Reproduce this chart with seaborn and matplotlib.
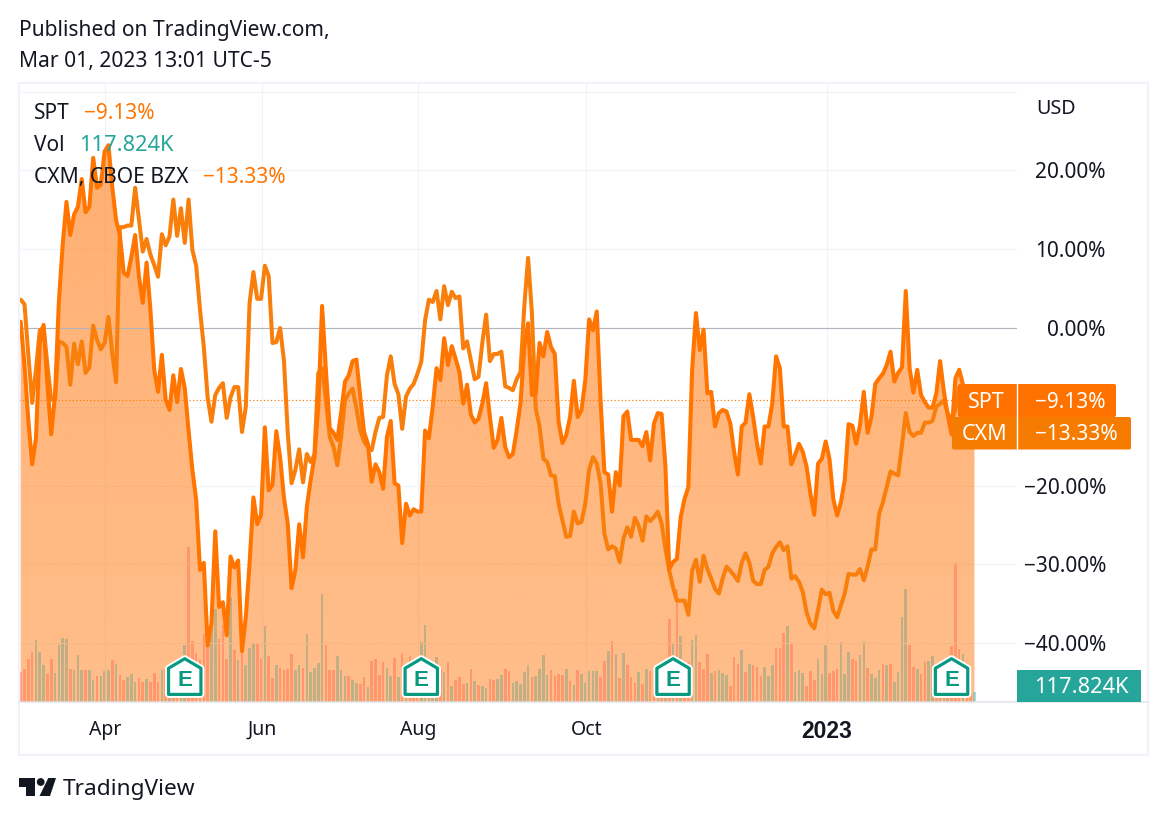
import numpy as np
import pandas as pd
import matplotlib
matplotlib.use("Agg")
import matplotlib.pyplot as plt
from matplotlib.patches import Polygon, Rectangle, FancyBboxPatch, Circle
import seaborn as sns

# percent change since the start of the window, one value per session
spt_pct = [0.8,-4.7,-11.7,-17.3,-14,-1.9,0.4,-7.2,-13.5,-8.5,
 3.3,10.5,16,11.8,14.4,15.4,18.9,14.7,15.4,21.6,
 17.8,18.2,22.4,23.2,17.9,13.7,11.8,7,6.6,9,
 11.8,6.5,3.2,8.3,2.3,-5.3,-8.1,-3.4,-9.1,-10.4,
 -6,-9.4,-5.2,-7.6,-13,-18,-21.8,-30.7,-29.8,-40.3,
 -37.5,-25.8,-35.4,-34.8,-39,-29,-30.4,-29.5,-41,-36.7,
 -29.8,-21.5,-24.9,-23.7,-12.6,-20.6,-19.9,-13.1,-16.4,-21.5,
 -24.8,-33,-30.7,-24.9,-29.1,-22.7,-19.3,-16.4,-10,2.8,
 -5.3,-12.7,-13.3,-14.2,-10.7,-6.8,-6,-4.2,-4,-8.7,
 -13.2,-14.7,-19.5,-17.3,-18.3,-20.4,-13.8,-11.8,-19.7,-20,
 -27.3,-22.3,-23.8,-23,-23.3,-23.3,-13,-14,-10,-5.1,
 -6.6,-1.3,-4.7,-2.3,-3.9,-5.6,-9.6,-7.2,-11,-12,
 -11.5,-9.6,-7,-11.3,-15.2,-14.2,-11.4,-15.1,-16.4,-16,
 -13,-9.6,-2.4,0.6,-8.5,-8.4,-1.9,-3.6,-0.5,-2.4,
 -3.3,-11.9,-14.6,-13.6,-11.3,-6.7,-11.3,-10.4,-6.6,1.1,
 -0.3,2.1,-9.2,-18.3,-18.6,-23.3,-18.3,-20,-11.2,-10.6,
 -14.2,-14.2,-14.2,-15,-13.2,-16.8,-12.1,-10.8,-10.9,-17.6,
 -30.6,-29.7,-29.3,-24,-21.7,-20.2,-5.3,1.9,-2.8,-0.2,
 -8.3,-8.1,-12.5,-10.8,-10.4,-10.6,-12.1,-15.7,-18.6,-12.5,
 -12,-8.4,-11.3,-14.7,-17.2,-12.5,-12.5,-9.6,-3.6,-5.1,
 -12.5,-12.5,-17.3,-16.1,-14.7,-15.7,-17.6,-21,-23.7,-17.2,
 -16.6,-14.4,-16.6,-21.7,-23.8,-22.1,-19.3,-12.2,-12.4,-14.7,
 -12.3,-8.1,-13.3,-11.3,-7.1,-6.4,-5.8,-4.7,-3,-6.8,
 -5.7,-5,4.7,-5.1,-8.2,-5.3,-8.5,-9.4,-10.1,-10.1,
 -8.3,-4.2,-8.1,-11.1,-13.5,-6.4,-5.3,-7.2,-9.6,-10.2,-9.13]

cxm_pct = [3.6,3,-3.4,-9.5,-5.3,-0.3,0.1,-4.7,-9.1,-9.1,
 -1.7,-1.9,-2.4,-7.2,-2,-4.6,-1.7,-5.7,-5,0.3,
 -1.5,-2.7,-1.9,1.4,-3.2,-6.9,12.8,12.8,13,13,
 17.8,13.7,9.7,11.3,9.3,8,6.5,11.9,10.5,11.6,
 16.3,11.7,15.2,10.8,16.3,9.9,7.9,2.3,-2.4,-8.8,
 -11.9,-8.5,-7.6,-7,-11.4,-8.8,-7.5,-7.5,-13.2,-10,
 3.2,7.1,3.7,3.7,7.9,6.6,-1.9,-1.8,0,-4.1,
 -13.3,-19.7,-18,-15.4,-19.6,-16,-17,-16.1,-5.7,-5.1,
 -9.1,-13.8,-15.1,-17.4,-13.8,-9.2,-8.3,-7.7,-10.2,-13,
 -14.4,-15.1,-15.5,-13.2,-11.4,-11.3,-6,-3.6,-7.1,-8.4,
 -12.8,-8.7,-7.7,-7.1,-5.8,-4.3,1,3.6,3.3,4.7,
 1.1,5.3,2.9,4.6,3.8,4,-2.6,-1.7,-4.1,-6.5,
 -6.2,-1.9,1.7,-4.2,-3.3,-3.3,-3,-7.4,-7.6,-7.9,
 -6.5,-5.6,2.7,8.9,1.9,-10.2,-12.5,-16.6,-17,-18.7,
 -18.8,-22.3,-24.4,-26.5,-26.4,-23.3,-24.8,-24.6,-22.3,-18,
 -16.4,-17.2,-19.7,-26.1,-28.1,-27.7,-28,-29.7,-26.7,-25.3,
 -26.5,-24.1,-25.1,-27,-23.9,-24.5,-24,-23.3,-24.8,-28,
 -30.8,-32.9,-34.6,-34.6,-34.6,-36.4,-30.8,-29.4,-32.2,-28.9,
 -30.6,-31.8,-33.1,-33.7,-31.8,-30.3,-30.8,-31.4,-32.1,-29.8,
 -28.6,-29.8,-32.1,-32.5,-32.5,-30.7,-30.3,-28.6,-27.8,-27.2,
 -28.2,-27.7,-31.8,-31.5,-32.2,-33.5,-36.1,-37.5,-38.1,-35.8,
 -33.2,-33.8,-33.6,-35.9,-36.7,-35.2,-33.7,-31.2,-31.3,-31.3,
 -30.6,-32,-30.3,-28.1,-28.1,-23.6,-22.1,-20.2,-18.2,-18.5,
 -18.7,-14.9,-10.8,-13.2,-13.7,-13.3,-13.3,-12,-12,-11.8,
 -10,-9.6,-9.2,-10.8,-11.7,-10.4,-7.5,-9,-12,-13,-13.33]

# volume in thousands of shares
volume_k = [360,400,520,600,740,600,448,340,520,352,
 680,772,760,400,388,568,380,388,388,260,
 312,312,372,388,508,460,328,260,300,340,
 240,292,240,280,240,352,240,380,400,400,
 440,460,440,680,1860,728,592,500,820,680,
 940,1112,760,920,512,1260,628,508,600,440,
 652,700,700,512,908,548,288,440,412,380,
 400,572,380,440,412,820,360,412,472,1292,
 688,388,388,548,380,312,312,260,228,212,
 300,180,492,512,320,480,408,312,528,300,
 588,420,548,520,500,720,920,400,440,540,
 400,360,480,188,260,300,212,228,400,252,
 200,188,168,272,260,272,320,392,368,228,
 252,212,360,440,300,312,400,560,320,388,
 308,340,328,400,248,200,388,340,228,368,
 368,368,300,488,608,728,572,288,592,440,
 300,228,360,212,400,368,372,400,400,440,
 1000,692,1356,792,440,480,740,804,484,396,
 572,348,372,384,348,324,192,540,460,620,
 360,456,444,420,312,420,312,444,648,648,
 828,912,696,360,384,348,192,372,264,512,
 340,684,348,372,396,720,336,600,516,492,
 564,720,408,336,288,384,456,444,456,240,
 360,1020,1356,684,420,396,336,480,492,552,
 440,400,400,440,672,1668,636,576,240,100,118]

volume_dir = list(
 "rrrrgggrrg" "gggrgggrgg" "rgggrgrrgg" "grrgrrrgrg"
 "rrggrrrrrr" "ggrrrgrgrg" "ggrrgrrgrr" "rrggrggggg"
 "rrrgggrggr" "rgrrrrggrg" "rgrrrggggg" "rgrgrrrgrg"
 "rggrrggrrg" "ggggrggggr" "rrrgrgrggg" "ggrrgrgrgr"
 "rrgrgrrgrg" "rgrgrrggrr" "rgrgggrrrg" "rgrrrgggrr"
 "rgrgggrrrg" "ggrrrgggrr" "ggrgggrgrg" "gggrrgrrgg"
 "rgrgrrrgrrg")

month_sessions = [22.2, 63.2, 104.2, 148.3, 211.3]
month_labels = ["Apr", "Jun", "Aug", "Oct", "2023"]
price_ticks = [30, 20, 10, 0, -10, -20, -30, -40]
price_tick_labels = ["", "20.00%", "10.00%", "0.00%", "", "\u221220.00%", "\u221230.00%", "\u221240.00%"]
earnings_sessions = [43, 105, 171, 244]

FONT = "Noto Sans"
BOLD = "Liberation Sans"
INK = "#131722"
SPT_C = "#FF7500"
CXM_C = "#F97F0C"
TEAL = "#26A69A"
W, H = 1167, 821

sns.set_theme(style="white")
plt.rcParams["font.family"] = [FONT, "DejaVu Sans"]
fig = plt.figure(figsize=(W / 100, H / 100), dpi=100, facecolor="white")

L, R, T, B = 19, 1017, 83, 702
rect = [L / W, 1 - B / H, (R - L) / W, (B - T) / H]
ax_vol = fig.add_axes(rect, zorder=1)
ax = fig.add_axes(rect, zorder=2)
ax.patch.set_alpha(0)
over = fig.add_axes([0, 0, 1, 1], zorder=3)
over.set_xlim(0, W); over.set_ylim(H, 0); over.axis("off"); over.patch.set_alpha(0)

sessions = np.arange(len(spt_pct))
prices = pd.DataFrame({"session": sessions, "spt": spt_pct, "cxm": cxm_pct})
vols = pd.DataFrame({"session": sessions, "vol": volume_k, "dir": volume_dir})

x_lim = ((L - 20.7) / 3.815, (R - 20.7) / 3.815)
y_lim = ((328 - B) / 7.88, (328 - T) / 7.88)

sns.barplot(data=vols, x="session", y="vol", hue="dir", native_scale=True, dodge=False,
            palette={"r": "#FFB9CE", "g": "#8DE5F8"}, width=0.68, legend=False,
            errorbar=None, ax=ax_vol, linewidth=0, saturation=1)
ax_vol.set_xlim(*x_lim); ax_vol.set_ylim(0, (B - T) * 12)
ax_vol.set_xticks([]); ax_vol.set_yticks([])
ax_vol.set_xlabel(""); ax_vol.set_ylabel("")
for s in ax_vol.spines.values():
    s.set_visible(False)

# grid
for v in month_sessions:
    ax.axvline(v, color="#F0F3FA", lw=0.75, zorder=1)
for p in price_ticks:
    if p != 0:
        ax.axhline(p, color="#F0F3FA", lw=0.75, zorder=1)

# area under the main series, with a faint vertical gradient
area = ax.fill_between(prices["session"], prices["spt"], y_lim[0], color="none", zorder=2)
grad = np.zeros((256, 1, 4))
grad[..., 0] = 1.0; grad[..., 1] = 0x71 / 255
grad[..., 3] = np.linspace(0.56, 0.46, 256).reshape(-1, 1)
img = ax.imshow(grad, extent=[x_lim[0], x_lim[1], y_lim[0], 24], origin="upper",
                aspect="auto", zorder=2, interpolation="bilinear")
img.set_clip_path(area.get_paths()[0], ax.transData)

ax.axhline(0, color="#B2B5BE", lw=0.85, zorder=3)
ax.axhline(spt_pct[-1], color=SPT_C, lw=0.85, ls=(0, (1, 2)), zorder=3)

sns.lineplot(data=prices, x="session", y="cxm", color=CXM_C, lw=2.9, ax=ax, zorder=4, errorbar=None)
sns.lineplot(data=prices, x="session", y="spt", color=SPT_C, lw=2.9, ax=ax, zorder=5, errorbar=None)

ax.set_xlim(*x_lim); ax.set_ylim(*y_lim)
ax.set_xlabel(""); ax.set_ylabel("")
for s in ax.spines.values():
    s.set_visible(False)
ax.yaxis.tick_right()
ax.set_yticks(price_ticks)
ax.set_yticklabels(price_tick_labels, ha="right", fontsize=15, color=INK)
ax.tick_params(axis="y", length=0, pad=64)
ax.set_xticks(month_sessions)
ax.set_xticklabels(month_labels, fontsize=14, color=INK)
last = ax.get_xticklabels()[-1]
last.set_fontfamily(BOLD); last.set_fontweight("bold"); last.set_fontsize(16.5)
ax.tick_params(axis="x", length=0, pad=13)

# frame
over.add_patch(Rectangle((18.5, 83), 1129.5, 672, fill=False, ec="#F0F3FA", lw=1.5))
over.plot([19, 1148], [702, 702], color="#E0E3EB", lw=1.1)

# earnings markers
for s in earnings_sessions:
    cx = 20.7 + 3.815 * s
    pts = [(cx, 658.7), (cx + 16.2, 668.3), (cx + 16.2, 694.4), (cx - 16.2, 694.4), (cx - 16.2, 668.3)]
    over.add_patch(Polygon(pts, closed=True, fc="white", ec="white", lw=5, joinstyle="round"))
    over.add_patch(Polygon(pts, closed=True, fc="white", ec="#089981", lw=2.3, joinstyle="round"))
    over.text(cx, 680.6, "E", color="#089981", fontsize=16, family=BOLD, fontweight="bold",
              ha="center", va="center")

# last-value labels
def box(x0, y0, x1, y1, c, z=5):
    over.add_patch(FancyBboxPatch((x0 + 1.5, y0 + 1.5), x1 - x0 - 3, y1 - y0 - 3,
                                  boxstyle="round,pad=1.5,rounding_size=2", fc=c, ec="none", zorder=z))

box(952, 417, 1131, 449.5, "#F57C00", 5)
box(958, 384, 1116, 417, "#FF7200", 6)
over.plot([1016.5, 1016.5], [384, 449.5], color="white", lw=1, zorder=7)
over.text(986.5, 402, "SPT", color="white", fontsize=15.5, ha="center", va="center", zorder=8)
over.text(1106, 402, "\u22129.13%", color="white", fontsize=15, ha="right", va="center", zorder=8)
over.text(984.5, 435, "CXM", color="white", fontsize=15.5, ha="center", va="center", zorder=8)
over.text(1118, 435, "\u221213.33%", color="white", fontsize=15, ha="right", va="center", zorder=8)
over.add_patch(Rectangle((1017, 670), 124, 32, fc=TEAL, ec="none", zorder=5))
over.text(1129, 687.5, "117.824K", color="white", fontsize=15.7, ha="right", va="center", zorder=8)

# header, legend, footer
over.text(19, 30.5, "Published on TradingView.com,", color=INK, fontsize=15.15, va="center")
over.text(19, 62, "Mar 01, 2023 13:01 UTC-5", color=INK, fontsize=15.15, va="center")
over.text(1036, 109, "USD", color=INK, fontsize=14.2, va="center")
over.text(34, 113.5, "SPT", color=INK, fontsize=15, va="center")
over.text(84, 113.5, "\u22129.13%", color=SPT_C, fontsize=15, va="center")
over.text(34, 145.5, "Vol", color=INK, fontsize=15, va="center")
over.text(79, 145.5, "117.824K", color=TEAL, fontsize=15.7, va="center")
over.text(34, 177.5, "CXM, CBOE BZX", color=INK, fontsize=15.2, va="center")
over.text(203, 177.5, "\u221213.33%", color=SPT_C, fontsize=15, va="center")

over.add_patch(Polygon([(19, 778), (35, 778), (35, 796), (26, 796), (26, 787.5), (19, 787.5)], fc=INK, ec="none"))
over.add_patch(Circle((40.7, 782), 3.9, fc=INK, ec="none"))
over.add_patch(Polygon([(48.3, 778), (56, 778), (50, 796), (39.5, 796)], fc=INK, ec="none"))
over.text(63, 789.5, "TradingView", color=INK, fontsize=16.3, va="center")

fig.savefig("out.png", dpi=100)
